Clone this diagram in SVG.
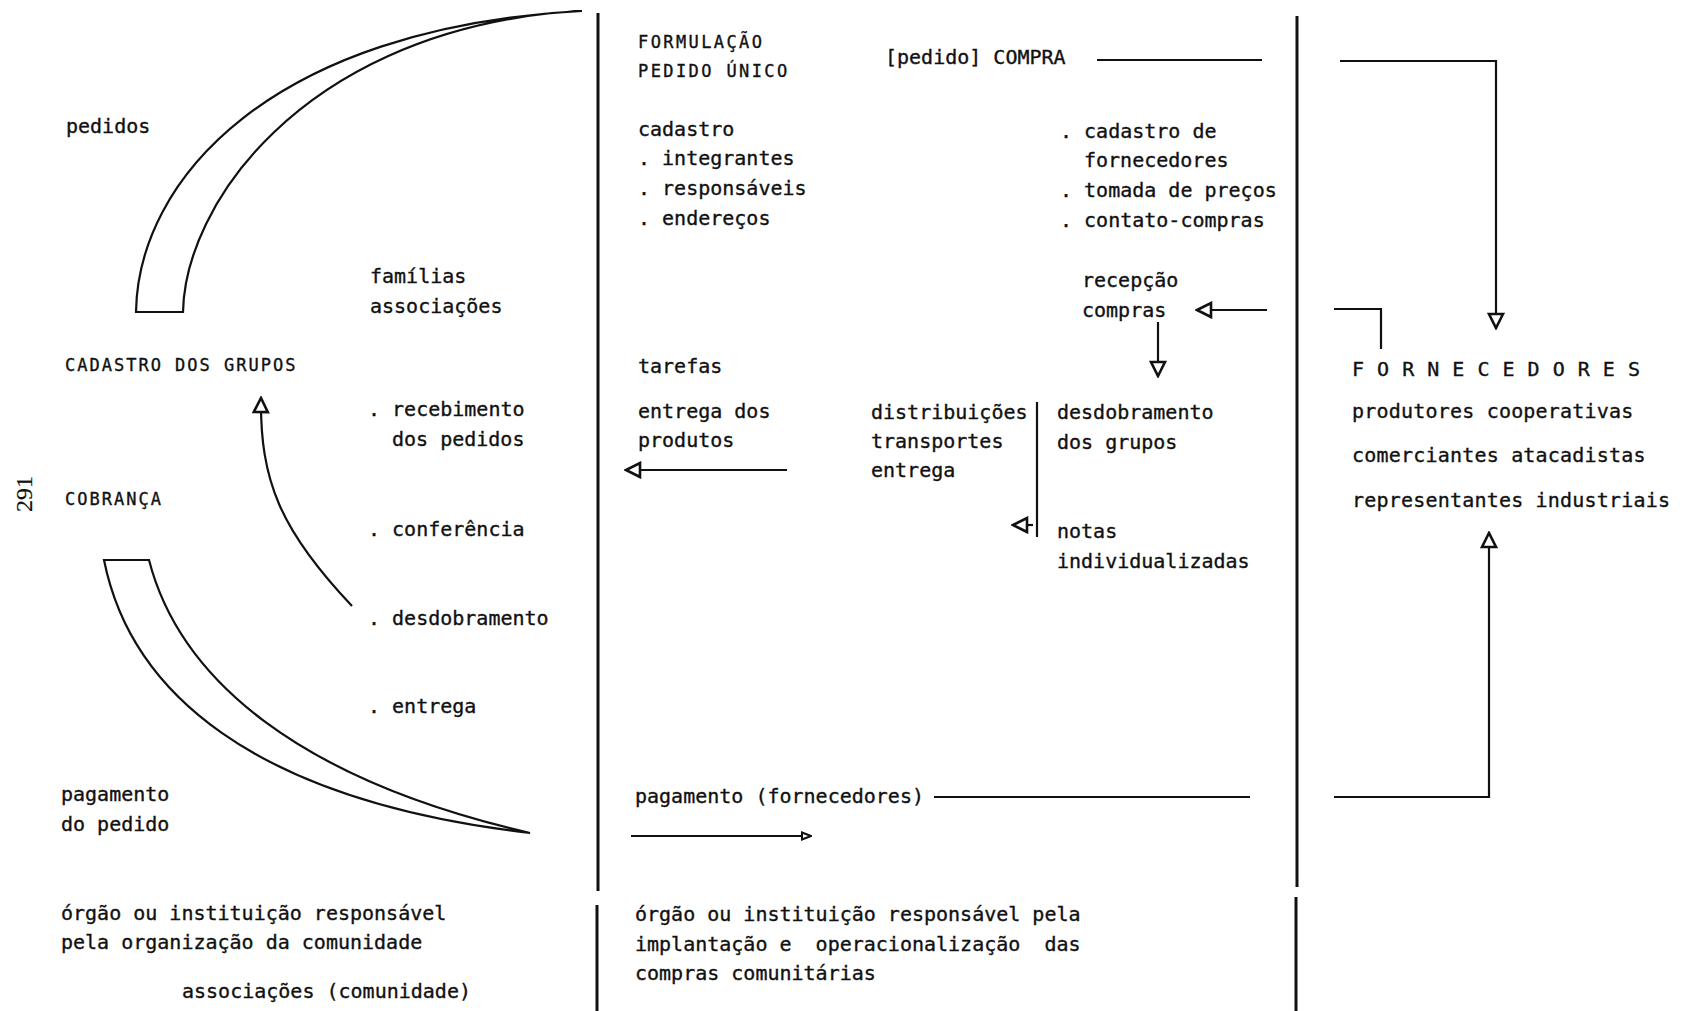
<svg xmlns="http://www.w3.org/2000/svg" width="1683" height="1011" viewBox="0 0 1683 1011">
<style>
  text { font-family: "DejaVu Sans Mono", "Liberation Mono", monospace; font-size: 20px; fill: #111; stroke: #111; stroke-width: 0.35px; }
  .cap { font-size: 17px; letter-spacing: 2px; }
  .cap2 { font-size: 17px; letter-spacing: 2.4px; }
  .pre { white-space: pre; }
  .ln { fill: none; stroke: #111; stroke-width: 2.2; }
  .div { fill: none; stroke: #111; stroke-width: 3; }
  .shape { fill: #fff; stroke: #111; stroke-width: 2.2; stroke-linejoin: miter; }
</style>
<defs>
  <marker id="tri" viewBox="0 0 18 18" refX="16" refY="9" markerWidth="18" markerHeight="18" markerUnits="userSpaceOnUse" orient="auto">
    <path d="M2,2 L16,9 L2,16 Z" fill="#fff" stroke="#111" stroke-width="2.6"/>
  </marker>
  <marker id="triS" viewBox="0 0 12 12" refX="11" refY="6" markerWidth="12" markerHeight="12" markerUnits="userSpaceOnUse" orient="auto">
    <path d="M2,2.5 L11,6 L2,9.5 Z" fill="#fff" stroke="#111" stroke-width="2"/>
  </marker>
</defs>
<rect width="1683" height="1011" fill="#fff"/>

<!-- dividers -->
<g id="dividers">
  <line class="div" x1="598" y1="13" x2="598" y2="891"/>
  <line class="div" x1="597" y1="905" x2="597" y2="1011"/>
  <line class="div" x1="1297" y1="16" x2="1297" y2="887"/>
  <line class="div" x1="1296" y1="897" x2="1296" y2="1011"/>
</g>

<!-- crescents -->
<g id="crescent-pedidos">
  <path class="shape" d="M183,312 L136,312 C138,180 270,28 582,11 L552,13 C300,40 185,205 183,312 Z"/>
</g>
<g id="crescent-pagamento">
  <path class="shape" d="M104,560 L149,560 C180,680 300,780 530,833 C250,800 130,690 104,560 Z"/>
</g>

<!-- left column -->
<g id="n-pedidos"><text x="66" y="133">pedidos</text></g>
<g id="n-familias"><text x="370" y="283">famílias</text><text x="370" y="313">associações</text></g>
<g id="n-cadastro-grupos"><text class="cap" x="65" y="371">CADASTRO DOS GRUPOS</text></g>
<g id="n-recebimento"><text x="368" y="416">. recebimento</text><text x="392" y="446">dos pedidos</text></g>
<g id="n-page"><text x="32" y="494" transform="rotate(-90 32 494)" text-anchor="middle" style="font-family:'Liberation Serif',serif;font-size:24px;stroke-width:0.2px">291</text></g>
<g id="n-cobranca"><text class="cap" x="65" y="505">COBRANÇA</text></g>
<g id="n-conferencia"><text x="368" y="536">. conferência</text></g>
<g id="n-desdobramento"><text x="368" y="625">. desdobramento</text></g>
<g id="n-entrega"><text x="368" y="713">. entrega</text></g>
<g id="n-pagamento-pedido"><text x="61" y="801">pagamento</text><text x="61" y="831">do pedido</text></g>
<g id="n-orgao-comunidade">
  <text x="61" y="920">órgão ou instituição responsável</text>
  <text x="61" y="949">pela organização da comunidade</text>
  <text x="182" y="998">associações (comunidade)</text>
</g>

<!-- middle column -->
<g id="n-formulacao"><text class="cap2" x="638" y="48">FORMULAÇÃO</text><text class="cap2" x="638" y="77">PEDIDO ÚNICO</text></g>
<g id="n-compra"><text x="885" y="64">[pedido] COMPRA</text></g>
<g id="n-cadastro">
  <text x="638" y="136">cadastro</text>
  <text x="638" y="165">. integrantes</text>
  <text x="638" y="195">. responsáveis</text>
  <text x="638" y="225">. endereços</text>
</g>
<g id="n-cadastro-fornecedores">
  <text x="1060" y="138">. cadastro de</text>
  <text x="1084" y="167">fornecedores</text>
  <text x="1060" y="197">. tomada de preços</text>
  <text x="1060" y="227">. contato-compras</text>
</g>
<g id="n-recepcao"><text x="1082" y="287">recepção</text><text x="1082" y="317">compras</text></g>
<g id="n-tarefas"><text x="638" y="373">tarefas</text></g>
<g id="n-entrega-produtos"><text x="638" y="418">entrega dos</text><text x="638" y="447">produtos</text></g>
<g id="n-distribuicoes"><text x="871" y="419">distribuições</text><text x="871" y="448">transportes</text><text x="871" y="477">entrega</text></g>
<g id="n-desdobramento-grupos"><text x="1057" y="419">desdobramento</text><text x="1057" y="449">dos grupos</text></g>
<g id="n-notas"><text x="1057" y="538">notas</text><text x="1057" y="568">individualizadas</text></g>
<g id="n-pagamento-fornecedores"><text x="635" y="803">pagamento (fornecedores)</text></g>
<g id="n-orgao-compras">
  <text class="pre" x="635" y="921">órgão ou instituição responsável pela</text>
  <text class="pre" x="635" y="951">implantação e  operacionalização  das</text>
  <text class="pre" x="635" y="980">compras comunitárias</text>
</g>

<!-- right column -->
<g id="n-fornecedores">
  <text x="1352" y="376" style="letter-spacing:0.5px">F O R N E C E D O R E S</text>
  <text x="1352" y="418" style="letter-spacing:0.2px">produtores cooperativas</text>
  <text x="1352" y="462" style="letter-spacing:0.2px">comerciantes atacadistas</text>
  <text x="1352" y="507" style="letter-spacing:0.2px">representantes industriais</text>
</g>

<!-- connectors -->
<g id="connectors">
  <line class="ln" x1="1097" y1="60" x2="1262" y2="60"/>
  <path class="ln" d="M1340,61 L1496,61 L1496,328" marker-end="url(#tri)"/>
  <path class="ln" d="M1334,309 L1381,309 L1381,349"/>
  <line class="ln" x1="1267" y1="310" x2="1197" y2="310" marker-end="url(#tri)"/>
  <line class="ln" x1="1158" y1="322" x2="1158" y2="376" marker-end="url(#tri)"/>
  <line class="ln" x1="787" y1="470" x2="626" y2="470" marker-end="url(#tri)"/>
  <line class="ln" x1="1037" y1="402" x2="1037" y2="537"/>
  <line class="ln" x1="1033" y1="525" x2="1013" y2="525" marker-end="url(#tri)"/>
  <path class="ln" d="M352,606 C280,530 260,480 261,398" marker-end="url(#tri)"/>
  <line class="ln" x1="934" y1="797" x2="1250" y2="797"/>
  <line class="ln" x1="631" y1="836" x2="811" y2="836" marker-end="url(#triS)"/>
  <path class="ln" d="M1334,797 L1489,797 L1489,533" marker-end="url(#tri)"/>
</g>
</svg>
